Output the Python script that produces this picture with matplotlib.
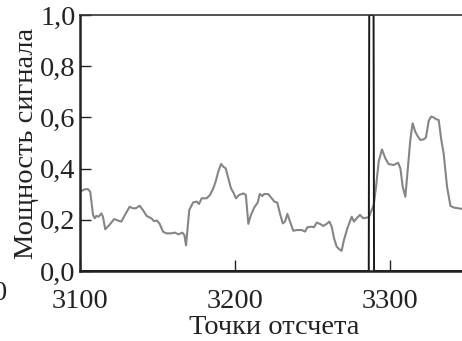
import matplotlib.pyplot as plt

# Отсчеты мощности принятого сигнала (серая кривая)
sig_x = [3100, 3103, 3105, 3106.6, 3108.4, 3109.5, 3110.5, 3112, 3113.8, 3114.8,
         3116.3, 3119, 3122, 3124.5, 3126.7, 3129, 3132, 3134, 3136, 3138.5,
         3140.6, 3143, 3146, 3147.7, 3149.7, 3151.4, 3153.5, 3155.7, 3159, 3161.3,
         3163.4, 3166, 3167.3, 3168.4, 3169.9, 3170.5, 3173, 3175.3, 3176.8, 3178.5,
         3181.7, 3183.9, 3186, 3187.5, 3189.2, 3191, 3192.5, 3194, 3195.7, 3197.4,
         3199, 3200.6, 3202.6, 3205.4, 3207, 3208.6, 3210.3, 3212.5, 3214.6, 3216,
         3217.6, 3218.9, 3221.5, 3223.7, 3225.4, 3227.3, 3229, 3230.8, 3232.3, 3233.8,
         3235.5, 3237.6, 3239.8, 3243, 3245.2, 3246.7, 3249.5, 3251, 3252.7, 3254.8,
         3257, 3259.1, 3260.9, 3262.4, 3263.9, 3265.6, 3267.3, 3268.8, 3270.3, 3272.5,
         3275.3, 3276.8, 3278.5, 3280.6, 3282.8, 3286.3, 3289.5, 3291, 3292.7, 3294.8,
         3297, 3299.1, 3302.4, 3305.2, 3306.7, 3308.2, 3309.9, 3311.6, 3313.1, 3314.6,
         3316.3, 3318, 3319.6, 3321.7, 3323.2, 3325, 3326.5, 3328.2, 3329.7, 3331.4,
         3333.1, 3334.6, 3336.8, 3339, 3341.7, 3344.3, 3350]
sig_y = [0.31, 0.319, 0.32, 0.31, 0.219, 0.206, 0.215, 0.212, 0.225, 0.212,
         0.163, 0.18, 0.203, 0.197, 0.193, 0.219, 0.251, 0.245, 0.245, 0.255,
         0.238, 0.215, 0.206, 0.195, 0.197, 0.184, 0.154, 0.147, 0.147, 0.15,
         0.143, 0.15, 0.141, 0.10, 0.199, 0.238, 0.268, 0.271, 0.262, 0.284,
         0.284, 0.297, 0.323, 0.349, 0.388, 0.418, 0.407, 0.401, 0.362, 0.323,
         0.306, 0.284, 0.297, 0.303, 0.297, 0.184, 0.219, 0.249, 0.267, 0.301,
         0.293, 0.301, 0.30, 0.284, 0.271, 0.267, 0.225, 0.186, 0.193, 0.223,
         0.193, 0.157, 0.16, 0.16, 0.154, 0.171, 0.173, 0.171, 0.189, 0.184,
         0.176, 0.184, 0.193, 0.173, 0.128, 0.095, 0.085, 0.079, 0.121, 0.167,
         0.212, 0.193, 0.206, 0.219, 0.206, 0.21, 0.258, 0.329, 0.427, 0.475,
         0.44, 0.418, 0.414, 0.423, 0.401, 0.329, 0.29, 0.407, 0.512, 0.577,
         0.544, 0.525, 0.512, 0.514, 0.522, 0.587, 0.603, 0.60, 0.593, 0.59,
         0.512, 0.46, 0.329, 0.254, 0.247, 0.245, 0.238]

# Импульс синхронизации (черная линия)
pulse_x = [3100, 3286.3, 3286.6, 3289.4, 3289.7, 3350]
pulse_y = [0, 0, 1, 1, 0, 0]

y_ticks = [0.0, 0.2, 0.4, 0.6, 0.8, 1.0]
x_ticks = [3100, 3200, 3300]

plt.rcParams['font.family'] = ['Liberation Serif', 'DejaVu Serif']
fs = 20.5

fig = plt.figure(figsize=(4.62, 3.41), dpi=100)
ax = fig.add_axes([80 / 462, 70 / 341, 387.5 / 462, 256 / 341])

ax.plot(sig_x, sig_y, color='#858585', linewidth=1.5, solid_joinstyle='round')
ax.plot(pulse_x, pulse_y, color='#1a1a1a', linewidth=1.4)

ax.set_xlim(3100, 3350)
ax.set_ylim(0, 1.0)

ax.set_xticks(x_ticks)
ax.set_xticklabels([str(v) for v in x_ticks])
ax.set_yticks(y_ticks)
ax.set_yticklabels([f'{v:.1f}'.replace('.', ',') for v in y_ticks])

ax.tick_params(axis='both', direction='in', labelsize=fs, colors='#222222')
ax.tick_params(axis='x', length=8, width=1.0, pad=13)
ax.tick_params(axis='y', length=8, width=1.0, pad=3)

for side in ['left', 'bottom']:
    ax.spines[side].set_linewidth(1.8)
    ax.spines[side].set_color('#222222')
ax.spines['top'].set_linewidth(1.2)
ax.spines['top'].set_color('#333333')
ax.spines['right'].set_visible(False)

ax.set_xlabel('Точки отсчета', fontsize=fs, color='#222222', labelpad=1)
ax.set_ylabel('Мощность сигнала', fontsize=fs, color='#222222', labelpad=1)

# хвост подписи соседнего графика у левого края
fig.text(0.0, (341 - 293) / 341, '0', fontsize=fs, color='#222222',
         ha='center', va='center')

fig.savefig('out.png', dpi=100)
